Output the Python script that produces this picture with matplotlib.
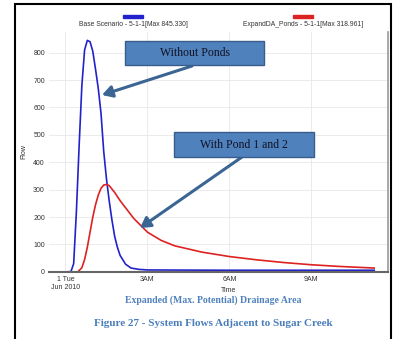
import matplotlib
matplotlib.use("Agg")
import matplotlib.pyplot as plt
from matplotlib.patches import Rectangle

# hours after midnight, flow
base_t = [0.0, 0.2, 0.3, 0.4, 0.5, 0.6, 0.7, 0.8, 0.9, 1.0, 1.1, 1.2, 1.3, 1.4,
          1.5, 1.6, 1.7, 1.8, 1.9, 2.0, 2.2, 2.4, 2.7, 3.0, 6.0, 9.0, 11.3]
base_q = [0, 1, 30, 220, 460, 680, 810, 845, 840, 805, 740, 670, 580, 440,
          340, 260, 190, 130, 90, 60, 28, 14, 9, 7, 6, 6, 6]

pond_t = [0.0, 0.45, 0.6, 0.7, 0.8, 0.9, 1.0, 1.1, 1.2, 1.3, 1.4, 1.5, 1.6, 1.8,
          2.0, 2.5, 3.0, 3.5, 4.0, 5.0, 6.0, 7.0, 8.0, 9.0, 10.0, 11.3]
pond_q = [0, 0, 15, 45, 90, 145, 200, 245, 280, 305, 317, 319, 315, 290,
          260, 195, 145, 115, 95, 72, 56, 44, 34, 26, 20, 14]

xticks = [0, 3, 6, 9]
xticklabels = ["1 Tue\nJun 2010", "3AM", "6AM", "9AM"]
yticks = [0, 100, 200, 300, 400, 500, 600, 700, 800]

W, H = 399, 339


def fx(px):
    return px / W


def fy(py):
    return 1 - py / H


fig = plt.figure(figsize=(3.99, 3.39), dpi=100)
ax = fig.add_axes([0.123, 0.198, 0.849, 0.708])

ax.plot(base_t, base_q, color="#2222cc", lw=1.2)
ax.plot(pond_t, pond_q, color="#dd2222", lw=1.2)

ax.set_xlim(-0.6, 11.8)
ax.set_ylim(0, 876)
ax.set_xticks(xticks)
ax.set_xticklabels(xticklabels, fontsize=5, color="#333333", family="Liberation Sans")
ax.set_yticks(yticks)
ax.set_yticklabels([str(v) for v in yticks], fontsize=5, color="#333333", family="Liberation Sans")
ax.tick_params(length=0, pad=3)
ax.grid(True, color="#e8e8e8", lw=0.6)
for s in ["left", "top"]:
    ax.spines[s].set_visible(False)
ax.spines["bottom"].set_color("#666666")
ax.spines["bottom"].set_linewidth(1.5)
ax.spines["right"].set_color("#999999")
ax.spines["right"].set_linewidth(1.2)
ax.set_xlabel("Time", fontsize=5, color="#333333", family="Liberation Sans")
ax.xaxis.set_label_coords((229 - 49) / 339, -(287 - 272) / 240)
ax.set_ylabel("Flow", fontsize=5, color="#333333", family="Liberation Sans")
ax.yaxis.set_label_coords(-(49 - 27) / 339, 0.5)

# legend entries at the top
fig.patches.append(Rectangle((fx(123), fy(18)), 20 / W, 3 / H,
                             transform=fig.transFigure, color="#2222cc"))
fig.patches.append(Rectangle((fx(293), fy(18)), 20 / W, 3 / H,
                             transform=fig.transFigure, color="#dd2222"))
fig.text(fx(133), fy(25), "Base Scenario - 5-1-1[Max 845.330]", fontsize=4.9,
         ha="center", va="center", color="#333333", family="Liberation Sans")
fig.text(fx(303), fy(25), "ExpandDA_Ponds - 5-1-1[Max 318.961]", fontsize=4.9,
         ha="center", va="center", color="#333333", family="Liberation Sans")

# annotation boxes with arrows
arrow = dict(arrowstyle="-|>,head_width=0.35,head_length=0.6", color="#3b6593", lw=2.2,
             shrinkA=0, shrinkB=0)
ax.annotate("", xy=(fx(102), fy(95)), xycoords="figure fraction",
            xytext=(fx(192), fy(66)), textcoords="figure fraction", arrowprops=arrow)
ax.annotate("", xy=(fx(140), fy(228)), xycoords="figure fraction",
            xytext=(fx(242), fy(157)), textcoords="figure fraction", arrowprops=arrow)

fig.patches.append(Rectangle((fx(125), fy(65)), 139 / W, 24 / H, transform=fig.transFigure,
                             fc="#4f81bd", ec="#385d8a", lw=1, zorder=5))
fig.patches.append(Rectangle((fx(174), fy(157)), 140 / W, 25 / H, transform=fig.transFigure,
                             fc="#4f81bd", ec="#385d8a", lw=1, zorder=5))
fig.text(fx(195), fy(53), "Without Ponds", fontsize=8.5, ha="center", va="center",
         family="Liberation Serif", color="#111122", zorder=6)
fig.text(fx(244), fy(144.5), "With Pond 1 and 2", fontsize=8.5, ha="center", va="center",
         family="Liberation Serif", color="#111122", zorder=6)

# captions
fig.text(fx(213), fy(300.5), "Expanded (Max. Potential) Drainage Area", fontsize=7,
         ha="center", va="center", family="Liberation Serif", weight="bold", color="#4f81bd")
fig.text(fx(213), fy(323), "Figure 27 - System Flows Adjacent to Sugar Creek",
         fontsize=8, ha="center", va="center", family="Liberation Serif", weight="bold",
         color="#4a7ebb")

# outer frame
fig.patches.append(Rectangle((fx(15), -0.01), 376 / W, 1 - 4 / H + 0.01,
                             transform=fig.transFigure, fill=False, ec="black", lw=1.5))

fig.savefig("out.png", dpi=100)
